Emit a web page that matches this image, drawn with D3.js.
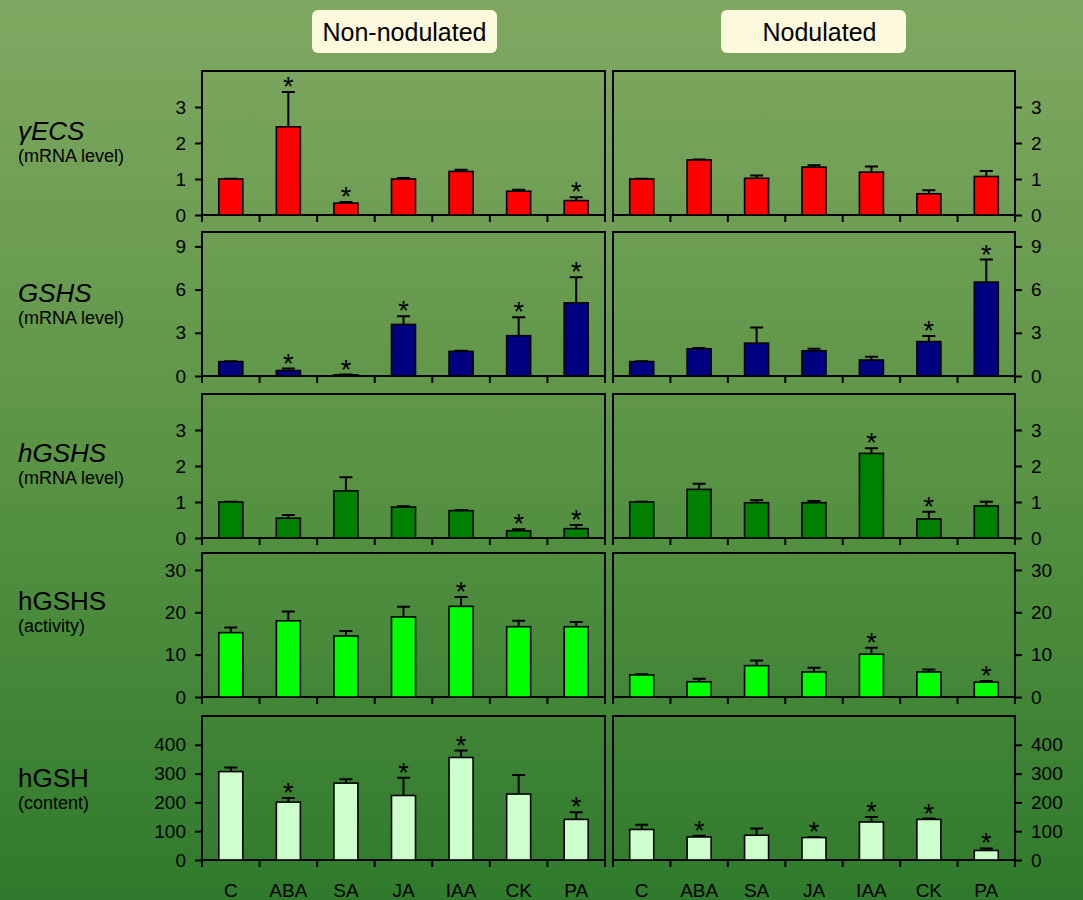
<!DOCTYPE html>
<html>
<head>
<meta charset="utf-8">
<script src="https://cdn.jsdelivr.net/npm/d3@7"></script>
<style>
    body { margin: 0; }
    svg { display: block; font-family: "Liberation Sans", Arial, sans-serif; }
</style>
</head>
<body>
<div id="chart"></div>
<script>
const treatments = ["C", "ABA", "SA", "JA", "IAA", "CK", "PA"];
const groups = ["Non-nodulated", "Nodulated"];

// gamma-ECS mRNA level
const ecsNonNod = [1.0, 2.45, 0.33, 1.0, 1.21, 0.66, 0.40];
const ecsNonNodErr = [0.01, 0.97, 0.03, 0.03, 0.05, 0.04, 0.09];
const ecsNod = [1.0, 1.53, 1.02, 1.33, 1.19, 0.59, 1.07];
const ecsNodErr = [0.01, 0.01, 0.08, 0.05, 0.16, 0.10, 0.15];

// GSHS mRNA level
const gshsNonNod = [1.0, 0.38, 0.08, 3.58, 1.71, 2.80, 5.08];
const gshsNonNodErr = [0.02, 0.14, 0.02, 0.57, 0.05, 1.28, 1.78];
const gshsNod = [1.0, 1.89, 2.28, 1.75, 1.11, 2.39, 6.52];
const gshsNodErr = [0.03, 0.05, 1.09, 0.14, 0.23, 0.39, 1.57];

// hGSHS mRNA level
const hgshsNonNod = [1.0, 0.55, 1.31, 0.86, 0.76, 0.20, 0.26];
const hgshsNonNodErr = [0.01, 0.09, 0.38, 0.02, 0.02, 0.04, 0.10];
const hgshsNod = [1.0, 1.35, 0.98, 0.98, 2.35, 0.53, 0.89];
const hgshsNodErr = [0.01, 0.16, 0.07, 0.05, 0.14, 0.20, 0.12];

// hGSHS activity
const actNonNod = [15.2, 18.0, 14.4, 18.9, 21.4, 16.6, 16.6];
const actNonNodErr = [1.2, 2.2, 1.2, 2.4, 2.2, 1.4, 1.1];
const actNod = [5.2, 3.6, 7.4, 5.9, 10.1, 5.9, 3.5];
const actNodErr = [0.15, 0.7, 1.2, 1.0, 1.5, 0.6, 0.3];

// hGSH content
const contNonNod = [307, 201, 267, 224, 356, 229, 141];
const contNonNodErr = [14, 14, 13, 62, 24, 66, 25];
const contNod = [106, 80, 86, 78, 132, 141, 33];
const contNodErr = [16, 4, 23, 1, 17, 3, 7];

// significant differences (*)
const starsEcs = [["ABA", "SA", "PA"], []];
const starsGshs = [["ABA", "SA", "JA", "CK", "PA"], ["CK", "PA"]];
const starsHgshs = [["CK", "PA"], ["IAA", "CK"]];
const starsAct = [["IAA"], ["IAA", "PA"]];
const starsCont = [["ABA", "JA", "IAA", "PA"], ["ABA", "JA", "IAA", "CK", "PA"]];

const rows = [
    {name: "\u03b3ECS", sub: "(mRNA level)", italic: true, max: 4, ticks: [0, 1, 2, 3], color: "#ff0000",
        values: [ecsNonNod, ecsNod], errs: [ecsNonNodErr, ecsNodErr], stars: starsEcs},
    {name: "GSHS", sub: "(mRNA level)", italic: true, max: 10, ticks: [0, 3, 6, 9], color: "#000080",
        values: [gshsNonNod, gshsNod], errs: [gshsNonNodErr, gshsNodErr], stars: starsGshs},
    {name: "hGSHS", sub: "(mRNA level)", italic: true, max: 4, ticks: [0, 1, 2, 3], color: "#008000",
        values: [hgshsNonNod, hgshsNod], errs: [hgshsNonNodErr, hgshsNodErr], stars: starsHgshs},
    {name: "hGSHS", sub: "(activity)", italic: false, max: 34, ticks: [0, 10, 20, 30], color: "#00ff00",
        values: [actNonNod, actNod], errs: [actNonNodErr, actNodErr], stars: starsAct},
    {name: "hGSH", sub: "(content)", italic: false, max: 500, ticks: [0, 100, 200, 300, 400], color: "#ccffcc",
        values: [contNonNod, contNod], errs: [contNonNodErr, contNodErr], stars: starsCont}
];

const width = 1083, height = 900;
const rowTops = [71, 232, 394, 553, 716];
const rowHeight = 144;
const labelOffsets = [69, 70, 68, 57, 71];
const panelX = [[202, 605], [613, 1015]];

const svg = d3.select("#chart").append("svg")
    .attr("width", width)
    .attr("height", height);

// background gradient
const grad = svg.append("defs").append("linearGradient")
    .attr("id", "bg")
    .attr("x1", 0).attr("y1", 0).attr("x2", 0).attr("y2", 1);
grad.append("stop").attr("offset", "0%").attr("stop-color", "#80a862");
grad.append("stop").attr("offset", "50%").attr("stop-color", "#5b9445");
grad.append("stop").attr("offset", "100%").attr("stop-color", "#2f7a2c");
svg.append("rect")
    .attr("width", width)
    .attr("height", height)
    .attr("fill", "url(#bg)");

// group headers
const headerBoxes = [[312, 497], [721, 906]];
headerBoxes.forEach(function (b, i) {
    svg.append("rect")
        .attr("x", b[0]).attr("y", 10)
        .attr("width", b[1] - b[0]).attr("height", 43)
        .attr("rx", 6)
        .attr("fill", "#fdf9dc");
    svg.append("text")
        .attr("x", i == 0 ? (b[0] + b[1]) / 2 : (b[0] + b[1]) / 2 + 6)
        .attr("y", 41)
        .attr("text-anchor", "middle")
        .style("font-size", "25px")
        .style("fill", "#000")
        .text(groups[i]);
});

rows.forEach(function (row, r) {
    const top = rowTops[r];
    const y = d3.scaleLinear()
        .domain([0, row.max])
        .range([top + rowHeight, top]);

    // row labels
    svg.append("text")
        .attr("x", 18)
        .attr("y", top + labelOffsets[r])
        .style("font-size", "26px")
        .style("font-style", row.italic ? "italic" : "normal")
        .text(row.name);
    svg.append("text")
        .attr("x", 18)
        .attr("y", top + labelOffsets[r] + 22)
        .style("font-size", "18px")
        .text(row.sub);

    groups.forEach(function (g, p) {
        const x = d3.scaleBand()
            .domain(treatments)
            .range(panelX[p])
            .paddingInner(0)
            .paddingOuter(0);
        const barW = 24;
        const panel = svg.append("g");

        // frame
        panel.append("rect")
            .attr("x", panelX[p][0])
            .attr("y", top)
            .attr("width", panelX[p][1] - panelX[p][0])
            .attr("height", rowHeight)
            .attr("fill", "none")
            .attr("stroke", "#000")
            .attr("stroke-width", 2);

        // category boundary ticks below the axis
        const bounds = treatments.map(function (t) { return x(t); }).concat([panelX[p][1]]);
        panel.selectAll("xtick")
            .data(bounds)
            .enter()
            .append("line")
            .attr("x1", function (d) { return d; })
            .attr("x2", function (d) { return d; })
            .attr("y1", top + rowHeight)
            .attr("y2", top + rowHeight + 7)
            .attr("stroke", "#000")
            .attr("stroke-width", 2);

        // y axis
        const axis = p == 0 ? d3.axisLeft(y) : d3.axisRight(y);
        const ax = panel.append("g")
            .attr("transform", "translate(" + panelX[p][p == 0 ? 0 : 1] + ",0)")
            .call(axis.tickValues(row.ticks).tickSize(7).tickPadding(9).tickFormat(d3.format("d")));
        ax.select(".domain").remove();
        ax.selectAll(".tick line").attr("stroke", "#000").attr("stroke-width", 2);
        ax.selectAll(".tick text")
            .style("font-size", "19px")
            .style("font-family", "'Liberation Sans', Arial, sans-serif")
            .attr("fill", "#000");

        const vals = row.values[p];
        const errs = row.errs[p];

        // error bars
        panel.selectAll("err")
            .data(treatments)
            .enter()
            .append("path")
            .attr("d", function (d, i) {
                const cx = x(d) + x.bandwidth() / 2;
                const y0 = y(vals[i]);
                const y1 = y(vals[i] + errs[i]);
                return "M" + cx + "," + y0 + "V" + y1 + "M" + (cx - 6.5) + "," + y1 + "H" + (cx + 6.5);
            })
            .attr("stroke", "#000")
            .attr("stroke-width", 2)
            .attr("fill", "none");

        // bars
        panel.selectAll("bar")
            .data(treatments)
            .enter()
            .append("rect")
            .attr("x", function (d) { return x(d) + x.bandwidth() / 2 - barW / 2; })
            .attr("y", function (d, i) { return y(vals[i]); })
            .attr("width", barW)
            .attr("height", function (d, i) { return y(0) - y(vals[i]); })
            .attr("fill", row.color)
            .attr("stroke", "#000")
            .attr("stroke-width", 1.6);

        // stars
        panel.selectAll("star")
            .data(row.stars[p])
            .enter()
            .append("text")
            .attr("x", function (d) { return x(d) + x.bandwidth() / 2; })
            .attr("y", function (d) {
                const i = treatments.indexOf(d);
                return y(vals[i] + errs[i]) + 4;
            })
            .attr("text-anchor", "middle")
            .style("font-size", "27px")
            .text("*");

        // category labels under the last row
        if (r == rows.length - 1) {
            panel.selectAll("cat")
                .data(treatments)
                .enter()
                .append("text")
                .attr("x", function (d) { return x(d) + x.bandwidth() / 2; })
                .attr("y", 897)
                .attr("text-anchor", "middle")
                .style("font-size", "19px")
                .text(function (d) { return d; });
        }
    });
});
</script>
</body>
</html>
